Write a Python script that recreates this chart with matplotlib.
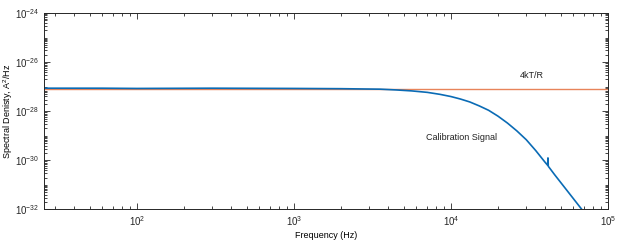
import numpy as np
import matplotlib.pyplot as plt
from matplotlib.ticker import LogLocator, FixedLocator, NullFormatter

plt.rcParams['font.family'] = ['Liberation Sans', 'DejaVu Sans']
plt.rcParams['mathtext.fontset'] = 'custom'
plt.rcParams['mathtext.rm'] = 'Liberation Sans'
plt.rcParams['mathtext.it'] = 'Liberation Sans'

# calibration signal (Hz, log10 of A^2/Hz)
cal_freq = [25.6, 60, 100, 300, 1000, 2000, 3548, 4467, 5623, 7079, 8511,
            10000, 11482, 13183, 15136, 17378, 19953, 22909, 26303, 30200,
            34674, 39811, 41300, 41500, 41700, 45709, 52481, 60256, 69183]
cal_log_psd = [-27.06, -27.06, -27.07, -27.06, -27.07, -27.08, -27.10, -27.13,
               -27.17, -27.23, -27.31, -27.40, -27.50, -27.62, -27.78, -27.96,
               -28.20, -28.48, -28.80, -29.16, -29.60, -30.08, -30.20, -29.90,
               -30.24, -30.58, -31.07, -31.56, -32.05]

# thermal noise level 4kT/R
thermal_freq = [25.6, 1e5]
thermal_log_psd = [-27.09, -27.09]

fig = plt.figure(figsize=(6.17, 2.47), dpi=100)
ax = fig.add_axes([0.0713, 0.152, 0.914, 0.795])

ax.plot(thermal_freq, 10.0 ** np.array(thermal_log_psd), color='#e8845a', lw=1.0)
ax.plot(cal_freq, 10.0 ** np.array(cal_log_psd), color='#0a6bb5', lw=1.2)

ax.set_xscale('log')
ax.set_yscale('log')
ax.set_xlim(25.6, 1e5)
ax.set_ylim(1e-32, 1e-24)

ax.yaxis.set_major_locator(FixedLocator([1e-32, 1e-30, 1e-28, 1e-26, 1e-24]))
ax.yaxis.set_minor_locator(LogLocator(base=10, subs=np.arange(1, 10), numticks=100))
ax.yaxis.set_minor_formatter(NullFormatter())
ax.xaxis.set_major_locator(FixedLocator([1e2, 1e3, 1e4, 1e5]))
ax.xaxis.set_minor_locator(LogLocator(base=10, subs=np.arange(2, 10), numticks=100))
ax.xaxis.set_minor_formatter(NullFormatter())

ax.tick_params(which='both', direction='in', top=True, right=True,
               labelsize=7, colors='#262626', width=0.6)
ax.tick_params(which='major', length=4)
ax.tick_params(which='minor', length=2)
for s in ax.spines.values():
    s.set_linewidth(0.7)
    s.set_color('#262626')

ax.text(3.28e4, 10 ** -26.56, '4kT/R', fontsize=6.5, ha='center', va='center',
        color='#222222')
ax.text(1.17e4, 10 ** -29.08, 'Calibration Signal', fontsize=6.5, ha='center',
        va='center', color='#222222')

ax.set_xlabel('Frequency (Hz)', fontsize=6.5)
ax.set_ylabel('Spectral Denisty, A$^2$/Hz', fontsize=6.5)
ax.xaxis.set_label_coords(0.5, -0.112)
ax.yaxis.set_label_coords(-0.052, 0.5)

fig.savefig('out.png', dpi=100)
